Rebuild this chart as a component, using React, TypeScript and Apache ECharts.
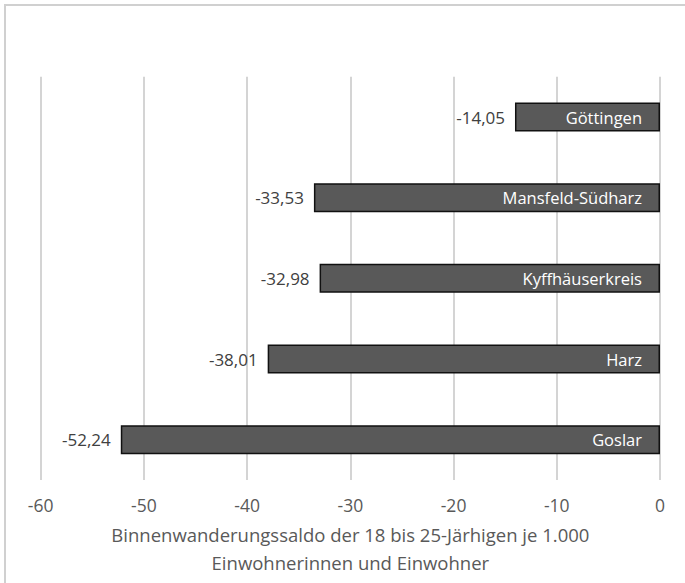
import React, { useEffect, useRef } from "react";
import * as echarts from "echarts";

const categories = ["Göttingen", "Mansfeld-Südharz", "Kyffhäuserkreis", "Harz", "Goslar"];
const values = [-14.05, -33.53, -32.98, -38.01, -52.24];
const axisMin = -60;
const axisMax = 0;
const axisInterval = 10;
const axisTitle = "Binnenwanderungssaldo der 18 bis 25-Järhigen je 1.000\nEinwohnerinnen und Einwohner";

const FONT = "'Open Sans', 'Noto Sans', sans-serif";

const fmt = (v: number) => v.toFixed(2).replace(".", ",");

export default function App() {
  const ref = useRef<HTMLDivElement>(null);
  useEffect(() => {
    if (!ref.current) return;
    const chart = echarts.init(ref.current, null, { renderer: "svg" });
    chart.setOption({
      animation: false,
      backgroundColor: "#ffffff",
      textStyle: { fontFamily: FONT },
      graphic: [
        {
          type: "rect",
          shape: { x: 5, y: 5, width: 720, height: 620 },
          style: { fill: "none", stroke: "#d0d0d0", lineWidth: 2 },
          silent: true,
          z: -10,
        },
      ],
      grid: { left: 40.7, right: 25, top: 76.7, bottom: 103, containLabel: false },
      xAxis: {
        type: "value",
        min: axisMin,
        max: axisMax,
        interval: axisInterval,
        axisLine: { show: false },
        axisTick: { show: false },
        axisLabel: { color: "#595959", fontSize: 17.5, margin: 16, fontFamily: FONT },
        splitLine: { show: true, lineStyle: { color: "#d4d4d4", width: 2 } },
        name: axisTitle,
        nameLocation: "middle",
        nameGap: 40,
        nameTextStyle: { color: "#595959", fontSize: 18.5, lineHeight: 28, fontFamily: FONT },
      },
      yAxis: {
        type: "category",
        data: categories,
        inverse: true,
        axisLine: { show: false },
        axisTick: { show: false },
        axisLabel: { show: false },
        splitLine: { show: false },
      },
      series: [
        {
          type: "bar",
          data: values,
          barWidth: 29,
          itemStyle: { color: "#595959", borderColor: "#111111", borderWidth: 1.5 },
          label: {
            show: true,
            position: "insideRight",
            distance: 18,
            formatter: (p: any) => p.name,
            color: "#ffffff",
            fontSize: 16.5,
            fontFamily: FONT,
          },
          z: 2,
        },
        {
          type: "bar",
          data: values,
          barWidth: 29,
          barGap: "-100%",
          silent: true,
          itemStyle: { color: "rgba(0,0,0,0)" },
          label: {
            show: true,
            position: "left",
            distance: 10,
            formatter: (p: any) => fmt(p.value),
            color: "#404040",
            fontSize: 17,
            fontFamily: FONT,
          },
          z: 3,
        },
      ],
    });
    return () => chart.dispose();
  }, []);
  return (
    <div
      ref={ref}
      style={{ position: "fixed", left: 0, top: 0, width: 685, height: 583 }}
    />
  );
}
